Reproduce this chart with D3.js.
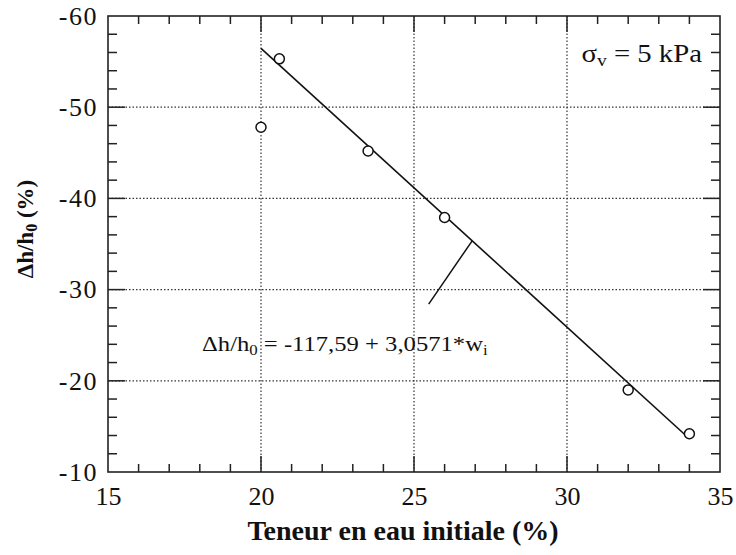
<!DOCTYPE html>
<html><head><meta charset="utf-8">
<script src="https://cdn.jsdelivr.net/npm/d3@7"></script>
<style>body{margin:0;background:#fff}svg{display:block}text{font-family:"Liberation Serif","Times New Roman",serif;fill:#111}</style>
</head><body>
<script>
const waterContent = [20, 20.6, 23.5, 26, 32, 34];
const strain = [-47.8, -55.3, -45.2, -37.9, -19.0, -14.2];
const fitIntercept = -117.59;
const fitSlope = 3.0571;
const fitRange = [20, 34];
const xTicks = [15, 20, 25, 30, 35];
const yTicks = [-60, -50, -40, -30, -20, -10];
const xGrid = [20, 25, 30];
const yGrid = [-50, -40, -30, -20];
const pointerFrom = [26.9, -35.35];
const pointerTo = [25.48, -28.4];

const W = 736, H = 555;
const m = {left:108, right:16, top:16, bottom:83};
const svg = d3.select("body").append("svg").attr("width", W).attr("height", H);
const x = d3.scaleLinear().domain([15, 35]).range([m.left, W - m.right]);
const y = d3.scaleLinear().domain([-60, -10]).range([m.top, H - m.bottom]);
const g = svg.append("g");

// grid
g.selectAll(".gx").data(xGrid).join("line")
  .attr("x1", d => x(d)).attr("x2", d => x(d)).attr("y1", y(-60)).attr("y2", y(-10))
  .attr("stroke", "#333").attr("stroke-width", 1.2).attr("stroke-dasharray", "1.5,2");
g.selectAll(".gy").data(yGrid).join("line")
  .attr("y1", d => y(d)).attr("y2", d => y(d)).attr("x1", x(15)).attr("x2", x(35))
  .attr("stroke", "#333").attr("stroke-width", 1.2).attr("stroke-dasharray", "1.5,2");

// ticks inward on all sides
const xMinor = d3.range(16, 35, 1).filter(v => v % 5 !== 0);
const yMinor = d3.range(-58, -10, 2).filter(v => v % 10 !== 0);
function ticksX(vals, len) {
  g.append("g").selectAll("line").data(vals).join("line")
    .attr("x1", d => x(d)).attr("x2", d => x(d)).attr("y1", y(-10)).attr("y2", y(-10) - len)
    .attr("stroke", "#222").attr("stroke-width", 1.5);
  g.append("g").selectAll("line").data(vals).join("line")
    .attr("x1", d => x(d)).attr("x2", d => x(d)).attr("y1", y(-60)).attr("y2", y(-60) + len)
    .attr("stroke", "#222").attr("stroke-width", 1.5);
}
function ticksY(vals, len) {
  g.append("g").selectAll("line").data(vals).join("line")
    .attr("y1", d => y(d)).attr("y2", d => y(d)).attr("x1", x(15)).attr("x2", x(15) + len)
    .attr("stroke", "#222").attr("stroke-width", 1.5);
  g.append("g").selectAll("line").data(vals).join("line")
    .attr("y1", d => y(d)).attr("y2", d => y(d)).attr("x1", x(35)).attr("x2", x(35) - len)
    .attr("stroke", "#222").attr("stroke-width", 1.5);
}
ticksX(xMinor, 8); ticksX(xGrid, 16);
ticksY(yMinor, 9); ticksY(yGrid, 17);

// frame
g.append("rect").attr("x", x(15)).attr("y", y(-60)).attr("width", x(35) - x(15)).attr("height", y(-10) - y(-60))
  .attr("fill", "none").attr("stroke", "#222").attr("stroke-width", 1.6);

// axis labels via d3 axes (no lines)
const xAxis = svg.append("g").attr("transform", `translate(0,${y(-10)})`)
  .call(d3.axisBottom(x).tickValues(xTicks).tickSize(0).tickPadding(15).tickFormat(d3.format("d")));
const yAxis = svg.append("g").attr("transform", `translate(${x(15)},0)`)
  .call(d3.axisLeft(y).tickValues(yTicks).tickSize(0).tickPadding(10).tickFormat(d => String(d).replace("−", "-")));
[xAxis, yAxis].forEach(a => { a.select(".domain").remove(); a.attr("font-family", null).attr("font-size", null);
  a.selectAll("text").attr("font-size", 26).attr("fill", "#111"); });
yAxis.selectAll("text").attr("letter-spacing", 1.5);

// fit line
const fit = fitRange.map(w => [w, fitIntercept + fitSlope * w]);
svg.append("path").datum(fit).attr("d", d3.line().x(d => x(d[0])).y(d => y(d[1])))
  .attr("stroke", "#111").attr("stroke-width", 1.6).attr("fill", "none");
svg.append("line").attr("x1", x(pointerFrom[0])).attr("y1", y(pointerFrom[1]))
  .attr("x2", x(pointerTo[0])).attr("y2", y(pointerTo[1])).attr("stroke", "#111").attr("stroke-width", 1.5);

// points
svg.selectAll("circle").data(waterContent.map((w, i) => [w, strain[i]])).join("circle")
  .attr("cx", d => x(d[0])).attr("cy", d => y(d[1])).attr("r", 5)
  .attr("fill", "#fff").attr("stroke", "#111").attr("stroke-width", 1.5);

// annotations
const eq = svg.append("text").attr("transform", "translate(202,351) scale(1.12,1)").attr("font-size", 22);
eq.append("tspan").text("Δh/h");
eq.append("tspan").text("0").attr("font-size", 15).attr("dy", 4);
eq.append("tspan").text(" = -117,59 + 3,0571*w").attr("dy", -4);
eq.append("tspan").text("i").attr("font-size", 15).attr("dy", 4);

const sg = svg.append("text").attr("transform", "translate(702,62) scale(1.15,1)").attr("font-size", 25).attr("text-anchor", "end");
sg.append("tspan").text("σ");
sg.append("tspan").text("v").attr("font-size", 17).attr("dy", 4);
sg.append("tspan").text(" = 5 kPa").attr("dy", -4);

// axis titles
svg.append("text").attr("x", 403).attr("y", 540).attr("text-anchor", "middle")
  .attr("font-size", 28).attr("font-weight", "bold").text("Teneur en eau initiale (%)");
const yt = svg.append("text").attr("transform", "translate(33,229) rotate(-90)").attr("text-anchor", "middle")
  .attr("font-size", 23).attr("font-weight", "bold");
yt.append("tspan").text("Δh/h");
yt.append("tspan").text("0").attr("font-size", 16).attr("dy", 4);
yt.append("tspan").text(" (%)").attr("dy", -4);
</script>
</body></html>
